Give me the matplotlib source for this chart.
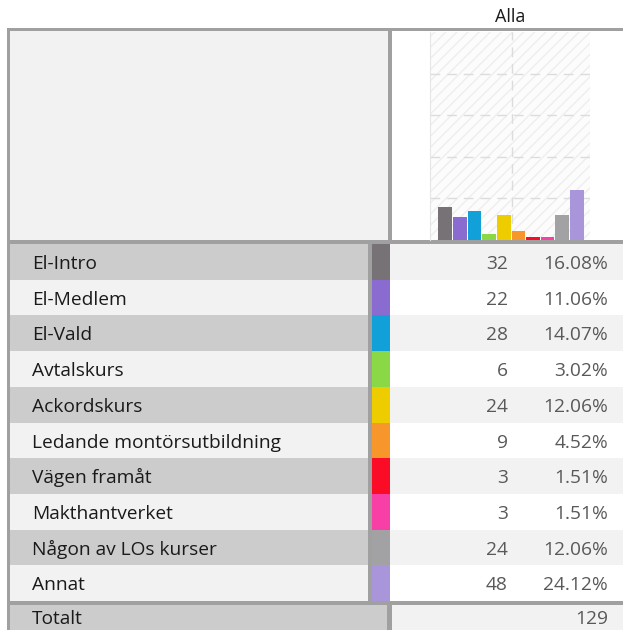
import matplotlib.pyplot as plt
from matplotlib.patches import Rectangle
import numpy as np

plt.rcParams['font.family'] = ['Open Sans', 'DejaVu Sans']

categories = ['El-Intro', 'El-Medlem', 'El-Vald', 'Avtalskurs', 'Ackordskurs',
              'Ledande montörsutbildning', 'Vägen framåt', 'Makthantverket',
              'Någon av LOs kurser', 'Annat']
counts = [32, 22, 28, 6, 24, 9, 3, 3, 24, 48]
colors = ['#767276', '#8a6bcf', '#12a0d9', '#8bd846', '#eecd00',
          '#f7962a', '#fa0c26', '#f73fa6', '#a2a1a3', '#a895da']
total_label = 'Totalt'
total_value = 129
column_title = 'Alla'

W, H = 623, 630
fig = plt.figure(figsize=(W / 100, H / 100), dpi=100)

# background axes in pixel coordinates for the table
tab = fig.add_axes([0, 0, 1, 1])
tab.set_xlim(0, W)
tab.set_ylim(H, 0)
tab.axis('off')

border = '#a0a0a0'
dark = '#cccccc'
light = '#f2f2f2'
fs = 13.8

def box(x0, y0, x1, y1, c):
    tab.add_patch(Rectangle((x0, y0), x1 - x0, y1 - y0, facecolor=c, edgecolor='none', lw=0))

# header
box(7, 28, W, 31, border)
box(10, 31, 388, 240, light)
box(388, 31, 392, 240, border)
box(7, 28, 10, H, border)
box(7, 240, W, 244, border)

tab.text(510, 22, column_title, ha='center', va='baseline', fontsize=fs - 0.8, color='#1a1a1a')

# rows
total = sum(counts)
row_top, row_bot = 244, 601
rh = (row_bot - row_top) / len(categories)
for i, (cat, n, c) in enumerate(zip(categories, counts, colors)):
    y0 = row_top + i * rh
    y1 = y0 + rh
    odd = i % 2 == 0
    box(10, y0, 368, y1, dark if odd else light)
    box(368, y0, 372, y1, border)
    box(372, y0, 390, y1, c)
    box(390, y0, W, y1, light if odd else 'white')
    yb = y0 + 25
    tab.text(32, yb, cat, ha='left', va='baseline', fontsize=fs, color='#1a1a1a')
    tab.text(508, yb, str(n), ha='right', va='baseline', fontsize=fs, color='#595959')
    tab.text(608, yb, f'{n / total * 100:.2f}%', ha='right', va='baseline', fontsize=fs, color='#595959')

# total row
box(7, 601, W, 605, border)
box(10, 605, 387, H, dark)
box(387, 605, 392, H, border)
box(392, 605, W, H, light)
tab.text(32, 624, total_label, ha='left', va='baseline', fontsize=fs, color='#1a1a1a')
tab.text(608, 624, str(total_value), ha='right', va='baseline', fontsize=fs, color='#595959')

# bar chart in the header
ax = fig.add_axes([430 / W, (H - 240) / H, 160 / W, 208 / H])
ax.set_facecolor('#fcfcfc')
ax.add_patch(Rectangle((0, 0), 1, 1, transform=ax.transAxes, facecolor='none',
                       edgecolor='#eeeeee', hatch='///', lw=0, zorder=0))
x = np.arange(len(counts))
ax.bar(x, counts, width=0.94, color=colors, zorder=3)
ax.set_xlim(-1.05, 9.9)
ax.set_ylim(0, 200)
ax.set_yticks([40, 80, 120, 160])
ax.yaxis.grid(True, color='#dcdcdc', linestyle=(0, (7, 5)), lw=1)
ax.axvline(4.55, color='#dcdcdc', linestyle=(0, (7, 5)), lw=1, zorder=1)
ax.set_xticks([])
ax.tick_params(left=False, labelleft=False)
for s in ['top', 'right', 'bottom']:
    ax.spines[s].set_visible(False)
ax.spines['left'].set_color('#e6e6e6')
ax.set_axisbelow(True)

fig.savefig('out.png', dpi=100)
